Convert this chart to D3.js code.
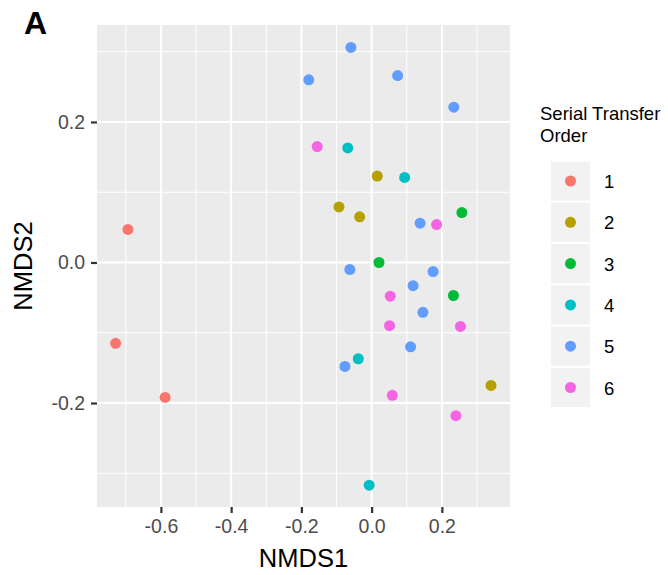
<!DOCTYPE html>
<html>
<head>
<meta charset="utf-8">
<script src="https://cdn.jsdelivr.net/npm/d3@7"></script>
<style>
  html, body { margin: 0; padding: 0; background: #fff; }
  svg { display: block; font-family: "Liberation Sans", Arial, Helvetica, sans-serif; }
</style>
</head>
<body>
<svg id="chart" width="668" height="575"></svg>
<script>
// ---- data ----
const orderLevels = ["1", "2", "3", "4", "5", "6"];
const levelColors = ["#F8766D", "#B79F00", "#00BA38", "#00BFC4", "#619CFF", "#F564E3"];
const xTicks = [-0.6, -0.4, -0.2, 0.0, 0.2];
const yTicks = [-0.2, 0.0, 0.2];
const xTickLabels = ["-0.6", "-0.4", "-0.2", "0.0", "0.2"];
const yTickLabels = ["-0.2", "0.0", "0.2"];

const nmds1 = [
  -0.694, -0.729, -0.588,
  0.016, -0.093, -0.034, 0.340,
  0.257, 0.021, 0.233,
  -0.068, 0.094, -0.038, -0.007,
  -0.059, -0.179, 0.074, 0.234, 0.138, -0.062, 0.175, 0.118, 0.146, 0.111, -0.076,
  -0.155, 0.185, 0.053, 0.051, 0.253, 0.059, 0.240
];
const nmds2 = [
  0.047, -0.115, -0.192,
  0.123, 0.079, 0.065, -0.175,
  0.071, 0.000, -0.047,
  0.163, 0.121, -0.137, -0.317,
  0.306, 0.260, 0.266, 0.221, 0.056, -0.010, -0.013, -0.033, -0.071, -0.120, -0.148,
  0.165, 0.054, -0.048, -0.090, -0.091, -0.189, -0.218
];
const transferOrder = [
  "1", "1", "1",
  "2", "2", "2", "2",
  "3", "3", "3",
  "4", "4", "4", "4",
  "5", "5", "5", "5", "5", "5", "5", "5", "5", "5", "5",
  "6", "6", "6", "6", "6", "6", "6"
];

// ---- layout ----
const svg = d3.select("#chart");
const panel = { left: 97, top: 25, right: 510, bottom: 507 };

const x = d3.scaleLinear().domain([-0.782, 0.394]).range([panel.left, panel.right]);
const y = d3.scaleLinear().domain([-0.348, 0.338]).range([panel.bottom, panel.top]);
const color = d3.scaleOrdinal().domain(orderLevels).range(levelColors);

// panel background
svg.append("rect")
  .attr("x", panel.left).attr("y", panel.top)
  .attr("width", panel.right - panel.left).attr("height", panel.bottom - panel.top)
  .attr("fill", "#EBEBEB");

// minor grid
const xMinor = [-0.7, -0.5, -0.3, -0.1, 0.1, 0.3];
const yMinor = [-0.3, -0.1, 0.1, 0.3];
svg.append("g").selectAll("line").data(xMinor).join("line")
  .attr("x1", d => x(d)).attr("x2", d => x(d))
  .attr("y1", panel.top).attr("y2", panel.bottom)
  .attr("stroke", "#fff").attr("stroke-width", 1);
svg.append("g").selectAll("line").data(yMinor).join("line")
  .attr("y1", d => y(d)).attr("y2", d => y(d))
  .attr("x1", panel.left).attr("x2", panel.right)
  .attr("stroke", "#fff").attr("stroke-width", 1);
// major grid
svg.append("g").selectAll("line").data(xTicks).join("line")
  .attr("x1", d => x(d)).attr("x2", d => x(d))
  .attr("y1", panel.top).attr("y2", panel.bottom)
  .attr("stroke", "#fff").attr("stroke-width", 2);
svg.append("g").selectAll("line").data(yTicks).join("line")
  .attr("y1", d => y(d)).attr("y2", d => y(d))
  .attr("x1", panel.left).attr("x2", panel.right)
  .attr("stroke", "#fff").attr("stroke-width", 2);

// axes
const xAxis = d3.axisBottom(x).tickValues(xTicks)
  .tickFormat((d, i) => xTickLabels[i]).tickSize(6).tickPadding(6);
const gx = svg.append("g").attr("transform", `translate(0,${panel.bottom})`).call(xAxis);
gx.select(".domain").remove();
gx.selectAll(".tick line").attr("stroke", "#333").attr("stroke-width", 2.2);
gx.selectAll(".tick text").attr("fill", "#4D4D4D").attr("font-size", 19.5)
  .attr("font-family", "'Liberation Sans', Arial, sans-serif");

const yAxis = d3.axisLeft(y).tickValues(yTicks)
  .tickFormat((d, i) => yTickLabels[i]).tickSize(6).tickPadding(6);
const gy = svg.append("g").attr("transform", `translate(${panel.left},0)`).call(yAxis);
gy.select(".domain").remove();
gy.selectAll(".tick line").attr("stroke", "#333").attr("stroke-width", 2.2);
gy.selectAll(".tick text").attr("fill", "#4D4D4D").attr("font-size", 19.5)
  .attr("font-family", "'Liberation Sans', Arial, sans-serif");

// points
const pts = nmds1.map((v, i) => ({ x: v, y: nmds2[i], g: transferOrder[i] }));
svg.append("g").selectAll("circle").data(pts).join("circle")
  .attr("cx", d => x(d.x)).attr("cy", d => y(d.y)).attr("r", 5.5)
  .attr("fill", d => color(d.g));

// axis titles
svg.append("text").attr("x", (panel.left + panel.right) / 2).attr("y", 566.5)
  .attr("text-anchor", "middle").attr("font-size", 25.5).attr("fill", "#000")
  .text("NMDS1");
svg.append("text").attr("transform", `translate(32,${(panel.top + panel.bottom) / 2}) rotate(-90)`)
  .attr("text-anchor", "middle").attr("font-size", 25.5).attr("fill", "#000")
  .text("NMDS2");

// panel tag
svg.append("text").attr("x", 24).attr("y", 33.5)
  .attr("font-size", 32).attr("font-weight", "bold").attr("fill", "#000")
  .text("A");

// legend
const leg = svg.append("g");
leg.append("text").attr("x", 540).attr("y", 120).attr("font-size", 18.5).attr("fill", "#000")
  .text("Serial Transfer");
leg.append("text").attr("x", 540).attr("y", 142).attr("font-size", 18.5).attr("fill", "#000")
  .text("Order");
const keyTop = 161.5, keyPitch = 41.3, keyW = 39, keyH = 39;
const items = leg.selectAll("g.item").data(orderLevels).join("g")
  .attr("class", "item")
  .attr("transform", (d, i) => `translate(551,${keyTop + i * keyPitch})`);
items.append("rect").attr("width", keyW).attr("height", keyH).attr("fill", "#F2F2F2");
items.append("circle").attr("cx", keyW / 2).attr("cy", keyH / 2).attr("r", 5.5)
  .attr("fill", d => color(d));
items.append("text").attr("x", 53).attr("y", keyH / 2 + 7)
  .attr("font-size", 18.5).attr("fill", "#000").text(d => d);
</script>
</body>
</html>
